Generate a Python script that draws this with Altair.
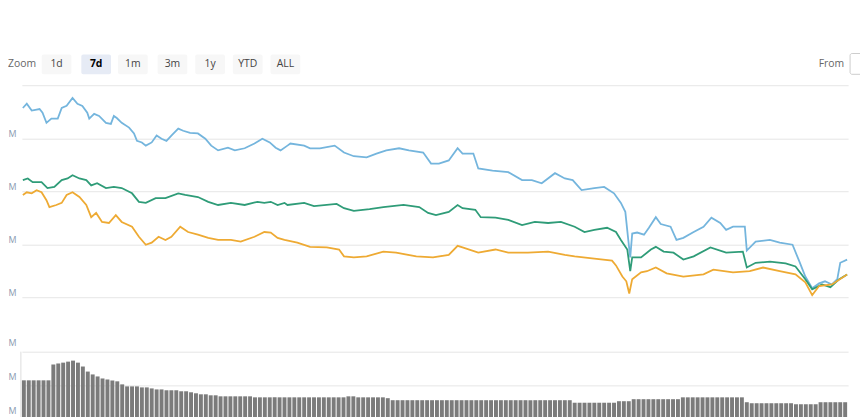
import altair as alt
import pandas as pd

# ---------------- data ----------------
series_names = ["Market Cap", "Price (USD)", "Price (BTC)"]
series_colors = ["#74b5dd", "#2f9c78", "#eeaa33"]

# (hour of the 7-day window, value)
blue = [(0.2,457),(1.0,465),(2.0,452),(3.6,455),(4.2,448),(5.0,429),(6.0,437),(7.3,437),(8.1,457),(9.1,461),
        (10.3,476),(11.3,465),(12.3,461),(13.3,448),(13.7,437),(14.7,446),(15.7,442),(17.1,429),(18.1,427),(18.7,442),
        (19.3,438),(20.3,429),(21.8,420),(22.8,409),(23.4,395),(24.4,392),(25.2,386),(26.4,392),(27.4,405),(28.4,399),
        (29.4,395),(30.4,405),(31.8,418),(32.8,414),(34.2,410),(35.8,409),(37.3,399),(38.5,386),(39.9,377),(41.9,382),
        (43.3,377),(45.3,381),(47.3,390),(48.9,399),(50.4,392),(51.6,382),(52.6,377),(54.0,386),(54.6,390),(57.4,386),
        (58.6,381),(60.6,381),(63.6,386),(65.5,373),(67.5,366),(70.1,364),(72.1,371),(74.1,377),(76.7,381),(78.7,377),
        (81.6,373),(83.2,352),(84.8,352),(86.8,358),(88.6,381),(89.6,371),(91.8,371),(92.8,343),(95.7,339),(98.9,336),
        (101.7,321),(103.7,321),(105.7,315),(108.4,334),(110.4,324),(112.0,321),(113.8,302),(116.4,306),(118.4,308),
        (120.4,296),(121.8,278),(122.7,261),(123.3,208),(123.7,175),(124.1,220),(125.1,222),(126.5,218),(127.5,231),
        (128.9,251),(129.9,238),(131.9,233),(133.1,208),(134.5,212),(136.6,223),(138.6,233),(140.2,250),(142.0,240),
        (143.2,227),(144.6,233),(147.0,233),(147.4,188),(149.2,205),(152.1,208),(154.1,203),(156.7,199),(158.1,167),
        (159.3,139),(160.7,117),(162.1,126),(163.3,130),(164.7,124),(165.8,134),(166.4,165),(167.8,171)]

green = [(0.2,321),(1.2,324),(2.2,317),(4.0,317),(5.2,306),(6.6,308),(8.1,321),(9.3,324),(10.3,330),(11.7,324),
         (13.1,321),(14.1,311),(15.3,315),(17.1,306),(18.7,308),(20.3,306),(22.4,296),(23.8,280),(25.2,278),(27.2,287),
         (29.2,287),(31.8,296),(33.2,293),(35.8,289),(37.9,280),(39.9,274),(42.5,278),(45.3,274),(47.9,280),(49.3,278),
         (50.6,280),(52.0,274),(53.4,278),(54.0,274),(57.4,278),(59.4,272),(64.0,276),(65.5,268),(67.5,263),(70.7,266),
         (73.5,270),(77.6,274),(80.8,270),(82.6,259),(84.2,255),(86.8,261),(88.6,274),(89.6,268),(92.2,265),(93.3,251),
         (96.3,250),(98.9,246),(101.7,236),(104.3,242),(107.0,240),(109.6,242),(112.4,233),(114.4,223),(116.4,227),
         (119.0,231),(120.8,223),(121.8,208),(123.1,190),(123.7,149),(124.1,175),(125.9,175),(127.9,190),(128.9,195),
         (130.5,186),(132.5,184),(134.5,171),(136.6,177),(140.0,194),(143.2,184),(146.6,186),(147.4,156),(149.2,165),
         (152.1,167),(155.3,164),(157.3,158),(159.3,134),(160.7,115),(162.7,124),(164.4,119),(166.2,134),(167.8,143)]

orange = [(0.2,293),(1.0,298),(2.0,296),(3.0,302),(4.0,298),(5.0,283),(5.6,270),(7.0,274),(8.1,278),(9.1,293),
          (10.3,298),(11.7,289),(13.1,274),(14.1,251),(15.1,259),(16.3,242),(17.7,240),(19.1,255),(20.3,242),(22.4,233),
          (23.8,214),(25.2,199),(26.4,203),(27.8,214),(29.2,208),(30.4,214),(32.2,233),(33.8,223),(35.8,218),(37.9,212),
          (39.9,208),(42.5,208),(44.5,205),(47.3,214),(49.3,223),(50.6,222),(52.0,212),(53.4,208),(56.0,203),(58.6,195),
          (62.0,194),(64.5,190),(65.5,177),(67.5,175),(70.1,177),(73.5,186),(76.1,184),(80.2,177),(83.6,175),(86.8,180),
          (88.6,197),(89.6,194),(92.8,184),(96.3,190),(98.9,184),(102.9,184),(107.0,186),(110.4,180),(112.4,177),
          (116.4,173),(120.0,169),(120.8,160),(122.1,139),(122.9,130),(123.5,107),(124.1,134),(125.9,147),(127.1,149),
          (128.9,156),(131.1,145),(134.5,139),(138.6,143),(140.6,152),(144.6,147),(148.0,149),(150.7,156),(154.1,149),
          (157.3,143),(159.3,128),(160.7,104),(162.1,121),(164.7,124),(167.8,143)]

# hourly volume, 168 bars
volume = [43,43,43,43,43,43,
          52.4,53,53.5,54.1,54.7,53.5,
          51.2,48.2,46.5,45.3,44.1,43.5,42.9,42.4,
          40.6,39.4,39.4,39.4,38.8,38.8,
          38.2,37.6,37.6,37.1,37.1,37.1,
          36.5,36.5,35.9,35.3,34.7,34.7,34.1,34.1,
          33.5,33.5,33.5,33.5,33.5,33.5,33.5,32.9,
          32.9,32.9,32.9,32.9,32.9,32.9,32.9,32.9,32.9,32.9,32.9,32.9,32.9,32.9,32.9,32.9,32.9,32.9,33.5,33.5,
          32.9,32.9,32.9,32.9,32.9,32.9,
          32.4,
          31.2,31.2,31.2,31.2,31.2,31.2,31.2,31.2,31.2,31.2,31.2,31.2,31.2,31.2,31.2,31.2,31.2,31.2,31.2,31.2,
          31.2,31.2,31.2,31.2,31.2,31.2,31.2,31.2,31.2,31.2,31.2,31.2,31.2,31.2,31.2,31.2,31.2,
          29.7,29.7,29.7,29.7,29.7,29.7,29.7,29.7,29.7,
          30.6,30.6,30.6,
          31.8,31.8,31.8,31.8,31.8,31.8,31.8,31.8,31.8,31.8,
          32.9,32.9,32.9,32.9,32.9,32.9,32.9,32.9,32.9,32.9,32.9,32.9,32.9,
          30.0,
          29.4,29.4,29.4,29.4,29.4,29.4,29.4,29.4,29.4,
          28.8,28.8,28.8,28.8,28.8,
          30.0,30.0,30.0,30.0,30.0,30.0]

price_ticks = [100, 200, 300, 400, 500]
volume_ticks = [20, 40, 60]
buttons = ["1d", "7d", "1m", "3m", "1y", "YTD", "ALL"]
selected_button = "7d"

# ---------------- tables ----------------
rows = []
for name, pts in zip(series_names, [blue, green, orange]):
    for h, v in pts:
        rows.append({"series": name, "h": h, "v": v})
lines_df = pd.DataFrame(rows)

vol_df = pd.DataFrame({"h0": list(range(len(volume))), "vol": volume})
vol_df["h1"] = vol_df["h0"] + 0.8

FONT = "Open Sans"
GRID = "#e6e6e6"
LABEL = "#8a99b0"

x_scale = alt.Scale(domain=[0, 168], nice=False, zero=False)

lines = alt.Chart(lines_df).mark_line(strokeWidth=1.8).encode(
    x=alt.X("h:Q", scale=x_scale, axis=None),
    y=alt.Y("v:Q",
            scale=alt.Scale(domain=[100, 500], range=[214, 0], nice=False, zero=False),
            axis=alt.Axis(values=price_ticks, orient="left", domain=False, ticks=False,
                          grid=True, gridColor=GRID, title=None,
                          labelExpr="datum.value < 450 ? 'M' : ''", labelColor=LABEL,
                          labelFontSize=9, labelFont=FONT, labelAlign="right",
                          labelBaseline="bottom", labelPadding=6, labelOffset=0)),
    color=alt.Color("series:N", scale=alt.Scale(domain=series_names, range=series_colors), legend=None),
)

bars = alt.Chart(vol_df).mark_bar(color="#7b7b7b").encode(
    x=alt.X("h0:Q", scale=x_scale, axis=None),
    x2="h1:Q",
    y=alt.Y("vol:Q",
            scale=alt.Scale(domain=[0, 60], range=[371, 269], nice=False, zero=True),
            axis=alt.Axis(values=volume_ticks, orient="left", domain=False, ticks=False,
                          grid=True, gridColor=GRID, title=None,
                          labelExpr="'M'", labelColor=LABEL, labelFontSize=9, labelFont=FONT,
                          labelAlign="right", labelBaseline="bottom", labelPadding=6,
                          labelOffset=-4)),
    y2=alt.Y2(datum=0),
)

border = alt.Chart(pd.DataFrame({"h": [-0.2]})).mark_rule(color="#dddddd", strokeWidth=1).encode(
    x=alt.X("h:Q", scale=x_scale, axis=None),
    y=alt.Y(datum=60),
    y2=alt.Y2(datum=0),
)

volume_panel = alt.layer(bars, border)

# ---------------- range selector row ----------------
ui_layers = []
ui_layers.append(
    alt.Chart(pd.DataFrame({"t": ["Zoom"]})).mark_text(
        align="left", baseline="middle", font=FONT, fontSize=10.5, color="#666666"
    ).encode(x=alt.value(-14), y=alt.value(-21), text="t:N")
)
centers = [57, 97, 134, 174, 212, 250, 288]
for lab, c in zip(buttons, centers):
    cx = c - 22
    sel = lab == selected_button
    ui_layers.append(
        alt.Chart(pd.DataFrame({"t": [lab]})).mark_rect(
            fill="#e6ebf5" if sel else "#f7f7f7", cornerRadius=2
        ).encode(x=alt.value(cx - 15), x2=alt.value(cx + 15), y=alt.value(-31), y2=alt.value(-11))
    )
    ui_layers.append(
        alt.Chart(pd.DataFrame({"t": [lab]})).mark_text(
            align="center", baseline="middle", font=FONT, fontSize=10.5,
            fontWeight="bold" if sel else "normal", color="#000000" if sel else "#444444"
        ).encode(x=alt.value(cx), y=alt.value(-21), text="t:N")
    )
ui_layers.append(
    alt.Chart(pd.DataFrame({"t": ["From"]})).mark_text(
        align="right", baseline="middle", font=FONT, fontSize=10.5, color="#666666"
    ).encode(x=alt.value(830), y=alt.value(-21), text="t:N")
)
ui_layers.append(
    alt.Chart(pd.DataFrame({"t": [""]})).mark_rect(
        fill="#ffffff", stroke="#cccccc", strokeWidth=1, cornerRadius=2
    ).encode(x=alt.value(836), x2=alt.value(870), y=alt.value(-32), y2=alt.value(-11))
)

chart = alt.layer(lines, volume_panel, *ui_layers).resolve_scale(y="independent").properties(
    width=834, height=333,
    padding={"left": 14, "top": 76, "right": 12, "bottom": 0},
    autosize=alt.AutoSizeParams(type="none"),
    background="white",
).configure_view(stroke=None)

chart.save("out.html", embed_options={"renderer": "svg", "actions": False})
